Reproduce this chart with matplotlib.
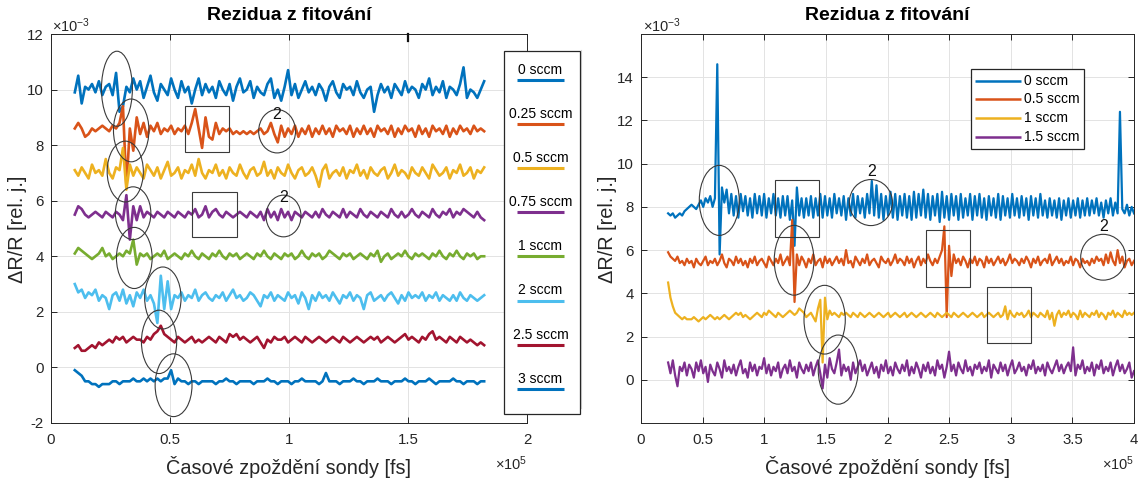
import numpy as np
import matplotlib
matplotlib.use("Agg")
import matplotlib.pyplot as plt
from matplotlib.patches import Ellipse, Rectangle
from matplotlib.lines import Line2D
from matplotlib.ticker import FuncFormatter, MultipleLocator, FixedLocator

plt.rcParams['font.family'] = ['Liberation Sans', 'DejaVu Sans']
plt.rcParams['mathtext.fontset'] = 'custom'
plt.rcParams['mathtext.rm'] = 'Liberation Sans'

# ---------------- data (residua, units of 1e-4) ----------------
left_x_range = (0.1e5, 1.82e5)
right_x_range = (0.22e5, 4.0e5)

left_labels = ['0 sccm', '0.25 sccm', '0.5 sccm', '0.75 sccm', '1 sccm', '2 sccm', '2.5 sccm', '3 sccm']
left_colors = ['#0072BD', '#D95319', '#EDB120', '#7E2F8E', '#77AC30', '#4DBEEE', '#A2142F', '#0072BD']

L_0 = [99,105,95,101,100,102,99,103,98,101, 102,98,106,92,94,101,99,104,100,103,
       97,101,105,99,96,102,100,98,104,100, 97,103,99,101,95,100,104,98,102,99,
       101,97,103,100,98,102,96,101,104,99, 100,103,97,101,99,98,102,104,97,100,
       96,101,107,98,102,97,100,103,99,101, 98,102,100,96,101,103,99,97,102,100,
       101,98,103,99,97,100,101,92,98,102, 99,101,97,102,100,98,103,99,101,100,
       97,102,100,104,98,101,99,103,97,101, 100,98,102,108,97,100,99,97,100,103]
L_025 = [86,88,86,83,84,86,85,86,87,86, 85,87,86,88,94,65,86,78,90,84,
         88,83,87,85,88,84,86,85,87,84, 86,85,87,84,88,93,86,79,90,83,
         82,88,84,86,85,86,84,85,84,85, 84,85,84,85,86,84,85,88,84,81,
         87,83,86,84,87,83,86,84,87,83, 86,84,87,84,86,83,87,85,86,84,
         87,83,86,84,87,84,86,83,87,85, 86,84,87,83,86,84,87,85,86,83,
         87,84,86,83,87,85,86,84,87,83, 86,84,87,85,86,84,87,85,86,85]
L_05 = [71,69,72,70,68,73,70,71,69,75, 70,68,72,71,79,64,73,69,72,70,
        68,73,71,69,72,68,71,74,69,70, 72,68,71,70,73,69,75,70,68,71,
        70,73,69,71,68,72,70,69,73,70, 68,71,72,69,70,74,69,71,68,72,
        70,69,73,70,68,71,72,69,70,72, 69,65,71,73,68,70,71,69,72,68,
        71,70,73,69,71,68,72,70,69,71, 72,68,70,73,69,71,70,68,72,70,
        69,72,70,68,73,71,69,70,72,68, 71,70,73,69,70,72,68,71,70,72]
L_075 = [55,58,57,55,54,55,56,55,54,56, 55,54,56,55,53,62,46,58,53,58,
         54,56,55,54,56,55,54,56,55,54, 56,55,54,56,55,57,54,55,58,54,
         56,57,55,54,56,55,54,55,56,55, 54,56,55,54,56,53,57,54,56,53,
         57,54,56,53,56,55,54,56,55,54, 56,54,57,55,54,56,55,54,57,54,
         56,55,54,57,55,54,56,55,54,56, 55,54,57,55,54,56,54,55,57,55,
         54,56,55,54,57,55,54,56,55,57, 54,56,55,57,56,55,54,56,54,53]
L_1 = [41,43,42,41,40,39,40,41,43,40, 41,39,40,41,40,42,41,46,37,41,
       40,41,39,40,41,40,42,39,40,41, 40,39,41,40,42,40,39,41,40,39,
       41,40,42,40,39,41,40,41,39,40, 41,40,39,41,40,42,40,39,41,40,
       39,41,40,41,39,40,42,40,39,41, 40,41,39,40,42,41,40,39,41,40,
       41,39,40,41,40,39,41,40,42,38, 40,41,39,40,41,40,42,40,39,41,
       40,41,40,39,41,40,42,40,39,41, 40,42,40,39,41,40,41,39,40,40]
L_2 = [30,27,28,25,27,26,28,24,26,25, 21,26,27,24,28,23,26,22,27,25,
       28,24,26,23,16,33,21,31,21,26, 25,27,24,26,25,28,24,26,27,25,
       24,26,25,27,24,26,28,25,26,24, 25,27,26,24,22,26,25,27,24,26,
       25,24,27,25,26,23,27,25,21,26, 24,27,25,26,24,27,25,23,26,25,
       27,24,26,25,21,26,27,24,25,26, 24,26,27,25,23,26,24,27,25,26,
       25,27,24,26,25,27,24,26,25,24, 26,24,27,25,24,26,25,24,25,26]
L_25 = [7,8,6,6,7,8,7,9,8,9, 10,9,11,10,11,9,10,11,10,10,
        9,11,10,12,13,15,12,11,10,9, 11,10,9,10,11,9,10,9,10,11,
        10,9,11,10,9,12,11,12,10,11, 10,9,10,11,9,7,10,9,11,10,
        10,11,9,10,11,10,9,11,10,9, 10,11,10,9,10,11,10,9,11,10,
        9,10,11,10,9,10,11,10,11,9, 10,11,10,9,10,11,12,10,11,10,
        9,11,10,12,13,10,11,10,9,11, 10,9,11,10,9,10,9,8,9,8]
L_3 = [-1,-2,-3,-5,-5,-6,-6,-7,-6,-6, -6,-5,-5,-6,-5,-5,-5,-4,-5,-5,
       -4,-5,-4,-5,-4,-5,-4,-4,-1,-6, -4,-5,-5,-6,-5,-5,-6,-5,-5,-5,
       -5,-6,-5,-5,-4,-5,-5,-6,-5,-5, -5,-5,-6,-5,-5,-5,-4,-5,-5,-6,
       -5,-5,-5,-6,-5,-5,-4,-5,-5,-5, -5,-6,-5,-2,-5,-5,-5,-6,-5,-5,
       -5,-4,-5,-5,-6,-5,-5,-5,-4,-5, -5,-5,-6,-5,-5,-5,-4,-5,-5,-6,
       -5,-5,-5,-4,-5,-6,-5,-5,-5,-5, -4,-5,-5,-6,-5,-5,-5,-6,-5,-5]
left_series = [L_0, L_025, L_05, L_075, L_1, L_2, L_25, L_3]

right_labels = ['0 sccm', '0.5 sccm', '1 sccm', '1.5 sccm']
right_colors = ['#0072BD', '#D95319', '#EDB120', '#7E2F8E']

R_0 = [77,76,77,75,76,77,76,78,79,80, 81,80,79,81,83,80,84,82,85,80,
       84,146,58,89,82,88,77,86,76,85, 75,86,78,85,76,84,75,86,77,85,
       76,86,75,84,77,86,76,84,75,85, 76,85,74,83,62,89,76,84,75,84,
       76,85,75,84,76,86,75,85,76,84, 75,86,77,84,76,85,74,84,76,86,
       75,85,77,84,75,86,77,92,76,90, 75,86,74,85,76,87,75,86,74,85,
       76,86,75,85,74,87,75,86,76,88, 75,86,74,85,76,86,73,87,75,85,
       74,86,76,85,74,86,75,84,76,86, 74,85,76,86,75,84,74,85,76,84,
       75,86,74,85,76,84,75,86,76,84, 75,85,76,84,74,85,76,84,75,86,
       76,83,75,84,76,83,75,84,74,83, 76,84,75,83,76,84,75,83,76,84,
       76,83,77,84,76,82,75,83,77,84, 76,82,77,124,79,77,81,76,80,77]
R_05 = [59,57,56,55,57,54,55,53,56,54, 55,52,56,54,53,55,57,53,55,54,
        56,53,55,58,54,52,56,55,53,57, 54,56,53,55,52,56,54,57,53,55,
        56,54,52,57,55,53,56,54,58,53, 55,57,53,74,36,58,53,57,55,52,
        56,54,58,53,55,56,52,57,54,56, 53,55,57,54,56,53,60,54,55,52,
        57,55,53,56,54,58,53,55,56,54, 52,57,55,54,56,53,55,58,54,56,
        55,53,57,54,56,52,55,57,53,56, 54,58,55,53,56,54,57,60,71,29,
        62,48,58,54,56,53,57,55,52,56, 54,57,53,56,55,52,57,54,56,53,
        55,57,54,56,53,55,58,54,56,55, 53,56,54,57,55,52,56,54,57,53,
        55,56,54,58,53,55,57,54,56,53, 55,54,57,53,56,55,52,56,54,55,
        53,56,54,57,55,56,53,58,54,59, 55,53,60,54,57,52,55,56,53,55]
R_1 = [45,38,34,31,30,29,28,29,28,28, 28,29,28,27,28,29,28,29,30,29,
       28,29,28,29,30,29,28,29,30,31, 30,31,29,30,29,28,29,30,31,30,
       29,31,30,32,31,30,29,31,30,29, 30,31,32,31,30,31,33,32,31,29,
       30,31,29,27,33,37,8,38,28,32, 30,31,30,29,31,30,31,30,29,31,
       30,29,31,30,29,30,31,30,29,30, 31,30,29,30,31,29,30,31,30,29,
       30,31,29,30,31,30,29,30,31,30, 29,30,31,30,29,31,30,29,30,31,
       30,29,31,30,29,30,31,30,29,30, 31,30,29,30,31,29,30,31,30,29,
       30,31,29,30,34,28,32,30,29,31, 30,31,29,30,32,29,31,30,29,31,
       30,29,32,28,31,25,30,32,29,31, 30,32,29,31,30,28,32,29,31,30,
       29,31,30,32,29,31,30,28,31,30, 32,29,31,30,29,32,30,31,30,31]
R_15 = [8,3,9,2,-3,6,4,8,2,7, 5,1,8,4,9,3,6,-1,7,4,
        2,8,5,1,9,4,6,3,7,2, 6,9,3,5,1,8,4,7,2,6,
        5,10,3,7,2,6,4,8,1,5, 7,3,9,4,6,1,8,5,3,7,
        4,8,2,6,9,3,-4,7,1,10, 5,3,8,14,2,7,4,6,0,8,
        3,6,9,4,7,2,5,8,3,6, 1,7,4,9,3,6,2,8,5,3,
        7,4,9,2,6,3,8,5,1,7, 4,8,3,6,2,9,5,7,1,6,
        13,4,7,2,8,5,3,9,4,6, 2,7,5,8,3,6,4,9,1,7,
        5,3,8,4,7,2,6,9,3,5, 8,4,6,2,7,5,9,3,6,4,
        7,2,8,5,3,6,9,4,7,3, 6,8,4,15,2,7,5,9,3,6,
        4,8,2,7,5,9,3,6,4,8, 2,6,9,4,7,3,5,8,1,4]
right_series = [R_0, R_05, R_1, R_15]

left_yticks = [-2, 0, 2, 4, 6, 8, 10, 12]
right_yticks = [0, 2, 4, 6, 8, 10, 12, 14]

# annotations (x in 1e5 fs, y in 1e-3)
left_ellipses = [(0.277, 10.03, 0.13, 2.7), (0.337, 8.53, 0.149, 2.26), (0.312, 7.05, 0.152, 2.19),
                 (0.345, 5.55, 0.149, 1.9), (0.35, 3.94, 0.15, 2.2), (0.47, 2.5, 0.153, 2.23),
                 (0.454, 0.92, 0.148, 2.28), (0.515, -0.64, 0.155, 2.26), (0.95, 8.5, 0.155, 1.56),
                 (0.977, 5.45, 0.147, 1.5)]
left_boxes = [(0.562, 7.76, 0.748, 9.4), (0.593, 4.69, 0.78, 6.32)]
left_marks = [(0.95, 9.1), (0.978, 6.1)]
right_ellipses = [(0.635, 8.3, 0.324, 3.24), (1.865, 8.2, 0.35, 2.13), (1.242, 5.53, 0.322, 3.23),
                  (1.49, 2.78, 0.335, 3.18), (1.6, 0.47, 0.324, 3.2), (3.75, 5.67, 0.365, 2.12)]
right_boxes = [(1.084, 6.6, 1.441, 9.24), (2.309, 4.31, 2.666, 6.95), (2.804, 1.68, 3.161, 4.31)]
right_marks = [(1.87, 9.65), (3.75, 7.08)]

# ---------------- figure ----------------
W, H = 1146, 487
fig = plt.figure(figsize=(W / 100, H / 100), dpi=100)

def fx(px):
    return px / W

def fy(py):
    return 1 - py / H

FRAME = '#262626'
ax1 = fig.add_axes([fx(51), fy(423), (527 - 51) / W, (423 - 34) / H])
ax2 = fig.add_axes([fx(641), fy(423), (1134 - 641) / W, (423 - 34) / H])

xs_left = np.linspace(left_x_range[0], left_x_range[1], len(L_0))
xs_right = np.linspace(right_x_range[0], right_x_range[1], len(R_0))

for ys, c in zip(left_series, left_colors):
    ax1.plot(xs_left, np.array(ys) * 1e-4, color=c, lw=1.9, solid_joinstyle='round')
for ys, c in zip(right_series, right_colors):
    ax2.plot(xs_right, np.array(ys) * 1e-4, color=c, lw=1.6, solid_joinstyle='round')

ax1.set_xlim(0, 2e5)
ax1.set_ylim(-2e-3, 12e-3)
ax2.set_xlim(0, 4e5)
ax2.set_ylim(-2e-3, 16e-3)

xfmt = FuncFormatter(lambda v, p: f"{round(v / 1e5, 6):g}")
yfmt = FuncFormatter(lambda v, p: f"{round(v * 1e3, 6):g}")
for ax, yt in ((ax1, left_yticks), (ax2, right_yticks)):
    ax.xaxis.set_major_locator(MultipleLocator(0.5e5))
    ax.yaxis.set_major_locator(FixedLocator([v * 1e-3 for v in yt]))
    ax.xaxis.set_major_formatter(xfmt)
    ax.yaxis.set_major_formatter(yfmt)
    ax.grid(True, color='#e3e3e3', lw=0.7)
    ax.set_axisbelow(True)
    ax.tick_params(direction='in', length=4, width=0.7, top=True, right=True,
                   colors=FRAME, labelsize=10.8, labelcolor=FRAME)
    ax.tick_params(axis='x', pad=7)
    ax.tick_params(axis='y', pad=5)
    for s in ax.spines.values():
        s.set_color(FRAME)
        s.set_linewidth(0.7)

ANN = '#3a3a3a'
def annotate(ax, ells, boxes, marks):
    for cx, cy, w, h in ells:
        ax.add_patch(Ellipse((cx * 1e5, cy * 1e-3), w * 1e5, h * 1e-3, fill=False,
                             ec=ANN, lw=0.8, zorder=5))
    for x0, y0, x1, y1 in boxes:
        ax.add_patch(Rectangle((x0 * 1e5, y0 * 1e-3), (x1 - x0) * 1e5, (y1 - y0) * 1e-3,
                               fill=False, ec=ANN, lw=0.8, zorder=5))
    for mx, my in marks:
        ax.text(mx * 1e5, my * 1e-3, '2', fontsize=11.5, ha='center', va='center',
                color='#111111', zorder=6)

annotate(ax1, left_ellipses, left_boxes, left_marks)
annotate(ax2, right_ellipses, right_boxes, right_marks)

# small dark tick artefact on top of left axes
ax1.plot([1.5e5, 1.5e5], [12e-3, 11.75e-3], color='#111111', lw=1.6, clip_on=False, zorder=7)

# titles, labels, exponents
for cx in (289, 887.5):
    fig.text(fx(cx), fy(15), 'Rezidua z fitování', fontsize=14, fontweight='bold',
             ha='center', va='center', color='#000000')
    fig.text(fx(cx), fy(467), 'Časové zpoždění sondy [fs]', fontsize=14.3,
             ha='center', va='center', color=FRAME)
for cx in (18, 607):
    fig.text(fx(cx), fy(229), 'ΔR/R [rel. j.]', fontsize=14.3, rotation=90,
             ha='center', va='center', color=FRAME)
for lx in (52, 643):
    fig.text(fx(lx), fy(26), r'$\mathregular{×10^{-3}}$', fontsize=10.5,
             ha='left', va='center', color=FRAME)
for rx in (527, 1134):
    fig.text(fx(rx), fy(464), r'$\mathregular{×10^{5}}$', fontsize=10.5,
             ha='right', va='center', color=FRAME)

# faint border line of the pasted right figure
fig.add_artist(Line2D([fx(581), fx(581)], [fy(50), fy(408)], color='#d6d6d6', lw=0.8))

# left legend (outside, text above line sample)
fig.add_artist(Rectangle((fx(503.5), fy(414)), (579.5 - 503.5) / W, (414 - 50.5) / H,
                         transform=fig.transFigure, fc='white', ec=FRAME, lw=0.9, zorder=10))
for k, (lab, c) in enumerate(zip(left_labels, left_colors)):
    ty = 69.5 + 44.2 * k
    fig.text(fx(540.5), fy(ty), lab, fontsize=10, ha='center', va='center',
             color='#000000', zorder=11)
    fig.add_artist(Line2D([fx(517), fx(564)], [fy(ty + 10), fy(ty + 10)], color=c,
                          lw=2.2, zorder=11, solid_capstyle='butt'))

# right legend (inside)
fig.add_artist(Rectangle((fx(970.7), fy(149)), (1084.3 - 970.7) / W, (149 - 69) / H,
                         transform=fig.transFigure, fc='white', ec=FRAME, lw=0.9, zorder=10))
for k, (lab, c) in enumerate(zip(right_labels, right_colors)):
    ty = 80.7 + 18.7 * k
    fig.add_artist(Line2D([fx(975), fx(1020.7)], [fy(ty), fy(ty)], color=c,
                          lw=1.8, zorder=11, solid_capstyle='butt'))
    fig.text(fx(1024), fy(ty), lab, fontsize=10, ha='left', va='center',
             color='#000000', zorder=11)

fig.savefig('out.png', dpi=100)
